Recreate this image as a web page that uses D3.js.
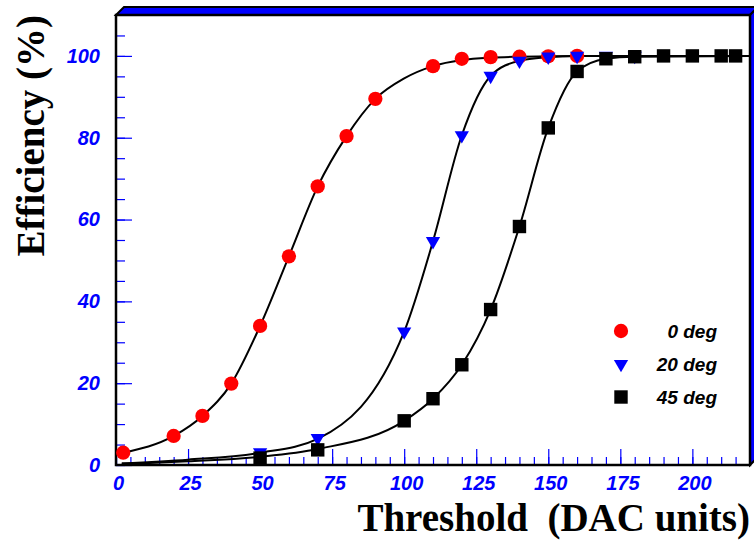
<!DOCTYPE html>
<html>
<head>
<meta charset="utf-8">
<script src="https://cdn.jsdelivr.net/npm/d3@7"></script>
<style>
  html, body { margin: 0; padding: 0; background: #fff; }
  svg { display: block; }
</style>
</head>
<body>
<svg id="chart" width="754" height="542"></svg>
<script>
// ---- data ----
const thresh0 = [2.5, 20, 30, 40, 50, 60, 70, 80, 90, 110, 120, 130, 140, 150, 160];
const eff0    = [3.0, 7.1, 12.0, 19.9, 34.0, 51.0, 68.1, 80.4, 89.5, 97.5, 99.3, 99.7, 99.8, 99.9, 100];

const thresh20 = [50, 70, 100, 110, 120, 130, 140, 150, 160, 170, 180];
const eff20    = [3.1, 6.6, 32.6, 54.7, 80.6, 95.1, 98.8, 99.8, 100, 100, 100];

const thresh45 = [50, 70, 100, 110, 120, 130, 140, 150, 160, 170, 180, 190, 200, 210, 215];
const eff45    = [1.7, 3.7, 10.8, 16.2, 24.5, 38.0, 58.3, 82.4, 96.2, 99.3, 99.8, 100, 100, 100, 100];

// fitted curves
const fit0X  = [2.5, 20, 30, 40, 50, 60, 70, 80, 90, 100, 110, 120, 130, 140, 150, 160, 220];
const fit0Y  = [3.0, 7.1, 12.0, 19.9, 34.0, 51.0, 68.1, 80.4, 89.5, 94.5, 97.5, 99.0, 99.6, 99.8, 99.9, 100, 100];
const fit20X = [2, 25, 50, 70, 100, 110, 120, 130, 140, 150, 160, 170, 220];
const fit20Y = [0.4, 1.3, 3.0, 6.4, 32.6, 54.7, 80.6, 95.1, 98.8, 99.7, 100, 100, 100];
const fit45X = [2, 25, 50, 70, 100, 110, 120, 130, 140, 150, 160, 170, 180, 220];
const fit45Y = [0.2, 0.9, 2.0, 3.9, 10.8, 16.2, 24.5, 38.0, 58.3, 82.4, 96.2, 99.3, 99.8, 100];

const xTicks = [0, 25, 50, 75, 100, 125, 150, 175, 200];
const yTicks = [0, 20, 40, 60, 80, 100];
const seriesLabels = ["0 deg", "20 deg", "45 deg"];
const xTitle = "Threshold  (DAC units)";
const yTitle = "Efficiency (%)";

// ---- layout ----
const L = 116, R = 750, T = 15, B = 465, D = 8;
const svg = d3.select("#chart");
const x = d3.scaleLinear().domain([0, 220]).range([L, R]);
const y = d3.scaleLinear().domain([0, 110]).range([B, T]);

// 3D frame top and right faces
svg.append("path")
  .attr("d", `M${L},${T} L${L + D},${T - D} L${R + D},${T - D} L${R},${T} Z`)
  .attr("fill", "#0000ff").attr("stroke", "#000").attr("stroke-width", 2);
svg.append("path")
  .attr("d", `M${R},${T} L${R + D},${T - D} L${R + D},${B - D} L${R},${B} Z`)
  .attr("fill", "#0000ff").attr("stroke", "#000").attr("stroke-width", 2);
svg.append("rect").attr("x", L).attr("y", T).attr("width", R - L).attr("height", B - T)
  .attr("fill", "#fff");

const labelFont = "'Liberation Sans', Arial, sans-serif";

// x axis
const gxMinor = svg.append("g").attr("transform", `translate(0,${B})`)
  .call(d3.axisBottom(x).tickValues(d3.range(0, 220, 5)).tickSize(-8).tickFormat(""));
const gx = svg.append("g").attr("transform", `translate(0,${B})`)
  .call(d3.axisBottom(x).tickValues(xTicks).tickSize(-16).tickPadding(11).tickFormat(d3.format("d")));
// y axis
const gyMinor = svg.append("g").attr("transform", `translate(${L},0)`)
  .call(d3.axisLeft(y).tickValues(d3.range(0, 110, 5)).tickSize(-9).tickFormat(""));
const gy = svg.append("g").attr("transform", `translate(${L},0)`)
  .call(d3.axisLeft(y).tickValues(yTicks).tickSize(-16).tickPadding(16).tickFormat(d3.format("d")));

[gxMinor, gx, gyMinor, gy].forEach(g => {
  g.select(".domain").remove();
  g.selectAll(".tick line").attr("stroke", "#0000ff").attr("stroke-width", 1.2);
  g.selectAll(".tick text")
    .attr("fill", "#0000ff")
    .style("font-family", labelFont)
    .style("font-size", "20px")
    .style("font-weight", "bold")
    .style("font-style", "italic");
});
gx.selectAll(".tick text").attr("dx", "2");

// frame
svg.append("rect").attr("x", L).attr("y", T).attr("width", R - L).attr("height", B - T)
  .attr("fill", "none").attr("stroke", "#000").attr("stroke-width", 2.5);

// curves
const line = d3.line().x(d => x(d[0])).y(d => y(d[1])).curve(d3.curveMonotoneX);
[[fit0X, fit0Y], [fit20X, fit20Y], [fit45X, fit45Y]].forEach(([xs, ys]) => {
  svg.append("path")
    .attr("d", line(xs.map((v, i) => [v, ys[i]])))
    .attr("fill", "none").attr("stroke", "#000").attr("stroke-width", 2);
});

// markers
const symCircle = d3.symbol().type(d3.symbolCircle).size(160);
const symTri = d3.symbol().type(d3.symbolTriangle).size(88);
const symSq = d3.symbol().type(d3.symbolSquare).size(180);

const series = [
  { xs: thresh0, ys: eff0, sym: symCircle, color: "#ff0000", rot: 0 },
  { xs: thresh20, ys: eff20, sym: symTri, color: "#0000ff", rot: 180 },
  { xs: thresh45, ys: eff45, sym: symSq, color: "#000000", rot: 0 }
];
series.forEach(s => {
  svg.append("g").selectAll("path")
    .data(s.xs.map((v, i) => [v, s.ys[i]]))
    .join("path")
    .attr("d", s.sym())
    .attr("transform", d => `translate(${x(d[0])},${y(d[1])}) rotate(${s.rot})`)
    .attr("fill", s.color);
});

// legend
const legY = [331, 364, 397];
series.forEach((s, i) => {
  svg.append("path").attr("d", s.sym())
    .attr("transform", `translate(621,${legY[i]}) rotate(${s.rot})`)
    .attr("fill", s.color);
  svg.append("text")
    .attr("x", 717).attr("y", legY[i]).attr("dy", "0.35em")
    .attr("text-anchor", "end")
    .style("font-family", labelFont).style("font-size", "19px")
    .style("font-weight", "bold").style("font-style", "italic")
    .attr("fill", "#000")
    .text(seriesLabels[i]);
});

// titles
const titleFont = "'Liberation Serif', 'Times New Roman', serif";
svg.append("text")
  .attr("x", 750).attr("y", 531)
  .attr("text-anchor", "end")
  .style("white-space", "pre")
  .style("font-family", titleFont).style("font-size", "39px").style("font-weight", "bold")
  .attr("fill", "#000")
  .text(xTitle);
svg.append("text")
  .attr("transform", "translate(44,15) rotate(-90)")
  .attr("text-anchor", "end")
  .style("font-family", titleFont).style("font-size", "39px").style("font-weight", "bold")
  .attr("fill", "#000")
  .text(yTitle);
</script>
</body>
</html>
